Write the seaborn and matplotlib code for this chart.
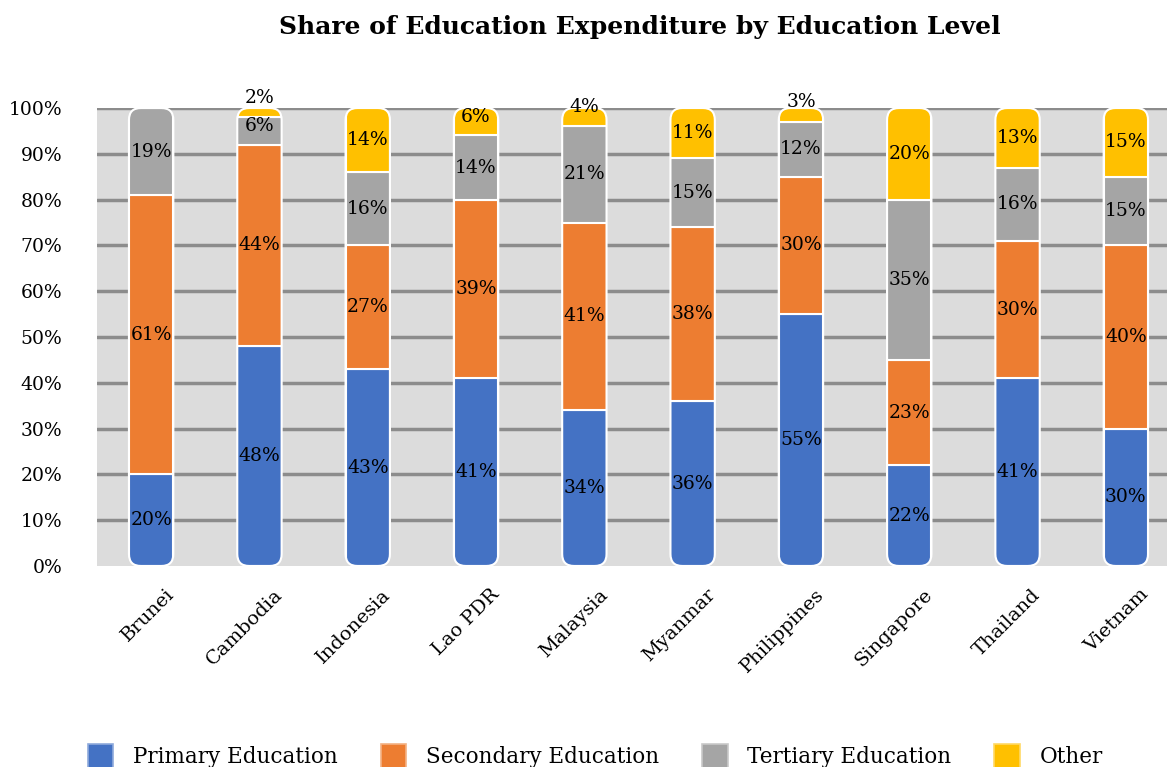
import numpy as np
import pandas as pd
import matplotlib
matplotlib.use("Agg")
import matplotlib.pyplot as plt
import matplotlib.transforms as mtransforms
import seaborn as sns
from matplotlib.patches import FancyBboxPatch, Patch

countries = ["Brunei", "Cambodia", "Indonesia", "Lao PDR", "Malaysia",
             "Myanmar", "Philippines", "Singapore", "Thailand", "Vietnam"]
primary = [20, 48, 43, 41, 34, 36, 55, 22, 41, 30]
secondary = [61, 44, 27, 39, 41, 38, 30, 23, 30, 40]
tertiary = [19, 6, 16, 14, 21, 15, 12, 35, 16, 15]
other = [0, 2, 14, 6, 4, 11, 3, 20, 13, 15]

series = ["Primary Education", "Secondary Education", "Tertiary Education", "Other"]
colors = ["#4472C4", "#ED7D31", "#A5A5A5", "#FFC000"]
edge_colors = ["#8FAADC", "#F4B183", "#C9C9C9", "#FFD966"]

sns.set_style("white")
plt.rcParams["font.family"] = ["DejaVu Serif"]
plt.rcParams["text.color"] = "black"
plt.rcParams["xtick.color"] = "black"
plt.rcParams["ytick.color"] = "black"

fig = plt.figure(figsize=(11.67, 7.67), dpi=100)
ax = fig.add_axes([97 / 1167, 1 - 566 / 767, 1083 / 1167, 458 / 767])
ax.set_facecolor("#DCDCDC")

bar_w = 0.41
bottom = np.zeros(len(countries))
layers = [primary, secondary, tertiary, other]
for name, vals, col in zip(series, layers, colors):
    df = pd.DataFrame({"country": countries, "share": np.array(vals) / 100})
    sns.barplot(data=df, x="country", y="share", color=col, saturation=1, width=bar_w,
                bottom=bottom, edgecolor="white", linewidth=1.5, ax=ax, zorder=3)
    bottom = bottom + df["share"].values

ax.set_xlim(-0.5, len(countries) - 0.5)
ax.set_ylim(0, 1)

# rounded outline per stack, used as clip path
fig.canvas.draw()
p0 = ax.transData.transform((0, 0))
p1 = ax.transData.transform((1, 1))
px_x = p1[0] - p0[0]
px_y = p1[1] - p0[1]
radius_px = 12
aspect = px_x / px_y
clips = []
for i, tot in enumerate(bottom):
    box = FancyBboxPatch((i - bar_w / 2, 0), bar_w, tot,
                         boxstyle=f"round,pad=0,rounding_size={radius_px / px_x}",
                         mutation_aspect=aspect, transform=ax.transData,
                         facecolor="none", edgecolor="white", linewidth=1.5, zorder=4)
    ax.add_patch(box)
    clips.append(box)

for cont in ax.containers:
    for i, rect in enumerate(cont.patches):
        rect.set_clip_path(clips[i])

# data labels
base = np.zeros(len(countries))
for vals in layers:
    for i, v in enumerate(vals):
        if v > 0:
            y = (base[i] + v / 2) / 100
            shift = max(0, 8 - v) * 2.5
            ax.annotate(f"{v}%", (i, y), xytext=(0, shift), textcoords="offset pixels",
                        ha="center", va="center", fontsize=13.5, color="black",
                        zorder=6, annotation_clip=False)
    base = base + np.array(vals)

ticks = np.arange(0, 1.01, 0.1)
ax.set_yticks(ticks)
ax.set_yticklabels([f"{int(round(t * 100))}%" for t in ticks], fontsize=13.5)
ax.yaxis.grid(True, color="#8C8C8C", linewidth=2.5, zorder=0)
ax.get_ygridlines()[0].set_visible(False)
ax.set_axisbelow(True)
ax.tick_params(axis="y", length=0, pad=25)
ax.tick_params(axis="x", length=0, pad=14)
shift_right = mtransforms.ScaledTranslation(10 / 72, 0, fig.dpi_scale_trans)
for lab in ax.get_xticklabels():
    lab.set_rotation(45)
    lab.set_ha("right")
    lab.set_rotation_mode("anchor")
    lab.set_fontsize(14)
    lab.set_transform(lab.get_transform() + shift_right)
ax.set_xlabel("")
ax.set_ylabel("")
for s in ax.spines.values():
    s.set_visible(False)

fig.suptitle("Share of Education Expenditure by Education Level",
             x=0.548, y=0.965, va="center", fontsize=18, fontweight="bold")

handles = [Patch(facecolor=c, edgecolor=e, linewidth=1.2) for c, e in zip(colors, edge_colors)]
fig.legend(handles, series, loc="center", bbox_to_anchor=(0.51, 0.014), ncol=4,
           frameon=False, fontsize=15.5, handlelength=1.2, handleheight=1.3,
           handletextpad=0.9, columnspacing=2.0)

fig.savefig("out.png", dpi=100)
